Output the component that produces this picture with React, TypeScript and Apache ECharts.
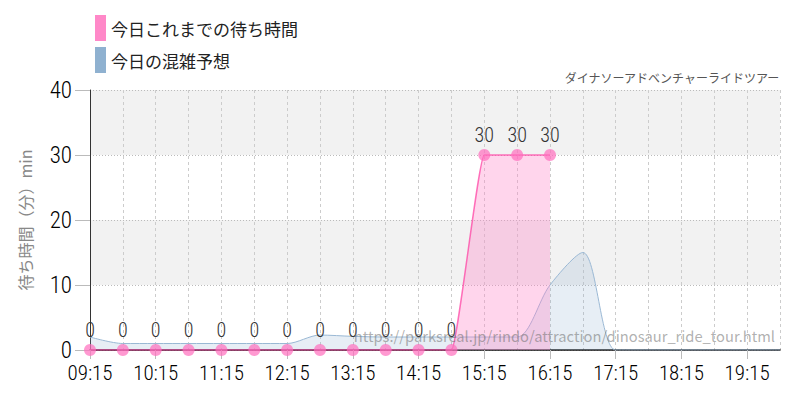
import React, { useEffect, useRef } from 'react';
import * as echarts from 'echarts';

// half-hour slots shown on the x axis
const times = [
  '09:15', '09:45', '10:15', '10:45', '11:15', '11:45', '12:15', '12:45',
  '13:15', '13:45', '14:15', '14:45', '15:15', '15:45', '16:15', '16:45',
  '17:15', '17:45', '18:15', '18:45', '19:15', '19:45',
];
// 今日これまでの待ち時間 (actual waits so far)
const waitSoFar = [0, 0, 0, 0, 0, 0, 0, 0, 0, 0, 0, 0, 30, 30, 30];
// 今日の混雑予想 (forecast)
const forecast = [2, 1, 1, 1, 1, 1, 1, 2.3, 2.1, 2, 2, 2, 2, 2, 10, 15, 0, 0, 0, 0, 0, 0];

const seriesNames = ['今日これまでの待ち時間', '今日の混雑予想'];
const attractionName = 'ダイナソーアドベンチャーライドツアー';
const sourceUrl = 'https://parksreal.jp/rindo/attraction/dinosaur_ride_tour.html';

const NUM_FONT = '"Roboto Condensed", "DejaVu Sans Condensed", sans-serif';
const JP_FONT = '"Noto Sans CJK JP", "Noto Sans", sans-serif';

const App: React.FC = () => {
  const chartRef = useRef<HTMLDivElement>(null);

  useEffect(() => {
    const chart = echarts.init(chartRef.current!, undefined, { renderer: 'svg' });

    const options = {
      animation: false,
      title: {
        text: attractionName,
        right: 20,
        top: 71,
        padding: 0,
        textStyle: { fontSize: 12, fontWeight: 'normal', color: '#555', fontFamily: JP_FONT },
      },
      legend: {
        orient: 'vertical',
        left: 95,
        top: 15,
        padding: 0,
        itemWidth: 11,
        itemHeight: 26,
        itemGap: 6,
        icon: 'rect',
        textStyle: { fontSize: 17, color: '#222', fontFamily: JP_FONT },
        data: [
          { name: seriesNames[0], itemStyle: { color: '#ff88c8' } },
          { name: seriesNames[1], itemStyle: { color: '#8fb1d0' } },
        ],
      },
      grid: { left: 90, right: 20, top: 90, bottom: 50 },
      graphic: [
        {
          type: 'text',
          right: 25,
          top: 328,
          z: 100,
          style: {
            text: sourceUrl,
            fontSize: 14.7,
            fontFamily: JP_FONT,
            fill: 'rgba(110,110,110,0.55)',
          },
        },
      ],
      xAxis: {
        type: 'category',
        data: times,
        boundaryGap: false,
        axisLine: { lineStyle: { color: '#111', width: 1.5 } },
        axisTick: { interval: 1, length: 9, lineStyle: { color: '#bbb' } },
        axisLabel: {
          interval: 1,
          margin: 12,
          fontSize: 21,
          fontWeight: 300,
          color: '#000',
          fontFamily: NUM_FONT,
        },
        splitLine: { show: true, interval: 0, lineStyle: { color: '#ccc', type: [3, 3] } },
      },
      yAxis: {
        type: 'value',
        min: 0,
        max: 40,
        interval: 10,
        name: '待ち時間（分）min',
        nameLocation: 'middle',
        nameRotate: 90,
        nameGap: 57,
        nameTextStyle: { fontSize: 16, color: '#888', fontFamily: JP_FONT },
        axisLine: { show: true, lineStyle: { color: '#333' } },
        axisTick: { show: true, length: 15, lineStyle: { color: '#bbb' } },
        axisLabel: { margin: 18, fontSize: 23, fontWeight: 300, color: '#000', fontFamily: NUM_FONT },
        splitLine: { lineStyle: { color: '#bbb', type: [1, 2] } },
        splitArea: { show: true, areaStyle: { color: ['rgba(0,0,0,0)', '#f2f2f2'] } },
      },
      series: [
        {
          name: seriesNames[1],
          type: 'line',
          data: forecast,
          smooth: 0.3,
          showSymbol: false,
          itemStyle: { color: '#8fb1d0' },
          lineStyle: { color: '#9ab8d4', width: 1 },
          areaStyle: { color: 'rgba(143,177,208,0.3)' },
          z: 2,
        },
        {
          name: seriesNames[0],
          type: 'line',
          data: waitSoFar,
          smooth: 0.1,
          symbol: 'circle',
          symbolSize: 12,
          itemStyle: { color: 'rgba(255,110,190,0.7)' },
          lineStyle: { color: '#ff3aa0', width: 1.5, opacity: 0.7 },
          areaStyle: { color: 'rgba(255,136,200,0.5)' },
          label: {
            show: true,
            position: 'top',
            distance: 4,
            fontSize: 20,
            fontWeight: 300,
            color: '#333',
            fontFamily: NUM_FONT,
          },
          z: 3,
        },
      ],
    };

    chart.setOption(options);

    return () => {
      chart.dispose();
    };
  }, []);

  return (
    <div
      ref={chartRef}
      style={{ position: 'fixed', left: 0, top: 0, width: '800px', height: '400px', background: '#fff' }}
    />
  );
};

export default App;
